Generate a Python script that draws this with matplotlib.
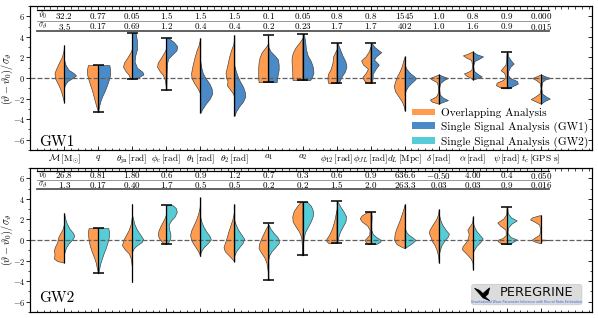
import numpy as np
import matplotlib
matplotlib.use('Agg')
import matplotlib.pyplot as plt
import matplotlib.transforms as mtransforms
from matplotlib.patches import Patch, FancyBboxPatch, Polygon
from matplotlib.ticker import MultipleLocator

plt.rcParams['font.family'] = 'serif'
plt.rcParams['font.serif'] = ['cmr10']
plt.rcParams['mathtext.fontset'] = 'cm'
plt.rcParams['axes.formatter.use_mathtext'] = True

param_labels = [r'$\mathcal{M}\,[\mathrm{M}_{\odot}]$', r'$q$', r'$\theta_{\mathrm{jn}}\,[\mathrm{rad}]$',
                r'$\phi_{\mathrm{c}}\,[\mathrm{rad}]$', r'$\theta_1\,[\mathrm{rad}]$', r'$\theta_2\,[\mathrm{rad}]$',
                r'$a_1$', r'$a_2$', r'$\phi_{12}\,[\mathrm{rad}]$', r'$\phi_{JL}\,[\mathrm{rad}]$',
                r'$d_L\,[\mathrm{Mpc}]$', r'$\delta\,[\mathrm{rad}]$', r'$\alpha\,[\mathrm{rad}]$',
                r'$\psi\,[\mathrm{rad}]$', r'$t_c\,[\mathrm{GPS\ s}]$']

gw1_theta0 = ['32.2', '0.77', '0.05', '1.5', '1.5', '1.5', '0.1', '0.05', '0.8', '0.8', '1545', '1.0', '0.8', '0.9', '0.000']
gw1_sigma = ['3.5', '0.17', '0.69', '1.2', '0.4', '0.4', '0.2', '0.23', '1.7', '1.7', '402', '1.0', '1.6', '0.9', '0.015']
gw2_theta0 = ['26.8', '0.81', '1.80', '0.6', '0.9', '1.2', '0.7', '0.3', '0.6', '0.9', '636.6', '-0.50', '4.00', '0.4', '0.050']
gw2_sigma = ['1.3', '0.17', '0.40', '1.7', '0.5', '0.5', '0.2', '0.2', '1.5', '2.0', '263.3', '0.03', '0.03', '0.9', '0.016']

# range of the central line (lo, hi) and whether it ends in caps
gw1_extent = [(-2.4, 3.2), (-3.3, 1.25), (-0.05, 4.4), (-1.17, 3.9), (-3.4, 3.9), (-3.7, 4.2), (-0.4, 4.2),
              (-0.2, 4.3), (-0.5, 3.4), (-0.45, 3.4), (-3.2, 2.1), (-2.5, 0.35), (-0.15, 2.6), (-1.0, 2.5), (-2.5, 0.35)]
gw1_caps = [False, True, True, True, False, False, True, True, True, True, False, False, False, True, False]
gw2_extent = [(-2.2, 2.65), (-3.25, 1.15), (-4.1, 3.5), (-0.35, 3.4), (-1.6, 4.15), (-2.1, 3.5), (-3.9, 1.7),
              (-1.5, 3.7), (-0.3, 3.8), (-0.4, 2.75), (-0.8, 3.5), (-2.25, 3.0), (-2.9, 2.3), (-0.4, 3.2), (-0.3, 2.4)]
gw2_caps = [False, True, False, True, False, False, True, True, True, True, False, False, False, True, False]

# half-violin outlines: (normalised value, half width)
gw1_overlap = [
    [(3.2, 0), (2.6, 0.02), (2.0, 0.07), (1.5, 0.15), (1.0, 0.22), (0.5, 0.28), (0.0, 0.27), (-0.5, 0.19), (-1.0, 0.12), (-1.5, 0.07), (-2.0, 0.03), (-2.4, 0)],
    [(1.25, 0.3), (0.8, 0.33), (0.3, 0.32), (-0.2, 0.28), (-0.7, 0.23), (-1.2, 0.18), (-1.7, 0.14), (-2.2, 0.1), (-2.7, 0.06), (-3.1, 0.02), (-3.3, 0)],
    [(2.9, 0), (2.5, 0.05), (2.0, 0.14), (1.5, 0.24), (1.1, 0.27), (0.7, 0.2), (0.3, 0.1), (-0.05, 0.06)],
    [(2.9, 0), (2.5, 0.06), (2.0, 0.15), (1.5, 0.25), (1.1, 0.27), (0.7, 0.2), (0.3, 0.1), (-0.2, 0.04), (-0.7, 0.02), (-1.17, 0.01)],
    [(3.9, 0), (3.2, 0.05), (2.7, 0.11), (2.0, 0.17), (1.2, 0.23), (0.5, 0.27), (0.0, 0.26), (-0.5, 0.18), (-1.0, 0.08), (-1.4, 0.02), (-1.8, 0)],
    [(4.2, 0), (3.3, 0.03), (2.7, 0.1), (2.0, 0.16), (1.2, 0.21), (0.5, 0.26), (0.0, 0.24), (-0.3, 0.2), (-0.7, 0.22), (-1.1, 0.13), (-1.5, 0.04), (-1.9, 0)],
    [(3.4, 0), (3.0, 0.08), (2.5, 0.2), (2.0, 0.26), (1.5, 0.29), (1.0, 0.3), (0.5, 0.3), (0.0, 0.3), (-0.4, 0.29)],
    [(3.9, 0), (3.5, 0.08), (3.0, 0.2), (2.5, 0.28), (2.0, 0.32), (1.5, 0.32), (1.0, 0.31), (0.5, 0.3), (0.0, 0.3), (-0.2, 0.29)],
    [(2.8, 0), (2.1, 0.1), (1.5, 0.12), (0.9, 0.17), (0.4, 0.25), (0.0, 0.27), (-0.3, 0.26), (-0.5, 0.24)],
    [(3.1, 0), (2.6, 0.05), (2.1, 0.15), (1.7, 0.28), (1.3, 0.22), (0.9, 0.08), (0.5, 0.14), (0.1, 0.24), (-0.2, 0.2), (-0.45, 0.12)],
    [(2.1, 0), (1.7, 0.04), (1.2, 0.08), (0.7, 0.14), (0.2, 0.22), (-0.3, 0.28), (-0.8, 0.32), (-1.3, 0.28), (-1.8, 0.18), (-2.3, 0.08), (-2.8, 0.02), (-3.2, 0)],
    [(0.35, 0), (0.15, 0.15), (0.0, 0.26), (-0.15, 0.2), (-0.4, 0.06), (-0.8, 0.02), (-1.4, 0.02), (-1.8, 0.08), (-2.1, 0.26), (-2.3, 0.2), (-2.5, 0)],
    [(2.6, 0), (2.4, 0.12), (2.2, 0.29), (2.0, 0.2), (1.75, 0.05), (1.3, 0.02), (0.8, 0.04), (0.6, 0.14), (0.45, 0.26), (0.25, 0.2), (0.05, 0.08), (-0.15, 0)],
    [(2.5, 0.01), (1.8, 0.02), (1.3, 0.04), (1.0, 0.12), (0.75, 0.18), (0.5, 0.08), (0.1, 0.04), (-0.2, 0.12), (-0.45, 0.3), (-0.7, 0.32), (-0.9, 0.2), (-1.0, 0.12)],
    [(0.35, 0), (0.15, 0.14), (0.0, 0.26), (-0.2, 0.14), (-0.5, 0.03), (-1.0, 0.01), (-1.5, 0.04), (-1.8, 0.17), (-2.05, 0.3), (-2.3, 0.14), (-2.5, 0)],
]
gw1_single = [
    [(1.8, 0), (1.3, 0.04), (0.8, 0.13), (0.5, 0.27), (0.25, 0.35), (0.0, 0.25), (-0.3, 0.1), (-0.7, 0.02), (-1.0, 0)],
    [(1.25, 0.33), (0.8, 0.35), (0.3, 0.35), (-0.2, 0.31), (-0.7, 0.26), (-1.2, 0.2), (-1.7, 0.13), (-2.2, 0.07), (-2.7, 0.03), (-3.1, 0.01), (-3.3, 0)],
    [(4.4, 0.1), (3.6, 0.14), (2.8, 0.14), (2.2, 0.09), (1.6, 0.07), (1.0, 0.14), (0.6, 0.3), (0.35, 0.33), (0.1, 0.2), (-0.05, 0.08)],
    [(3.9, 0.06), (3.5, 0.22), (3.1, 0.32), (2.7, 0.3), (2.3, 0.18), (1.9, 0.06), (1.4, 0.02), (0.5, 0.01), (-1.17, 0)],
    [(1.6, 0), (1.0, 0.03), (0.5, 0.07), (0.0, 0.15), (-0.5, 0.26), (-1.0, 0.33), (-1.5, 0.35), (-2.0, 0.28), (-2.5, 0.16), (-3.0, 0.06), (-3.4, 0)],
    [(1.2, 0), (0.8, 0.03), (0.3, 0.08), (-0.3, 0.16), (-0.9, 0.26), (-1.4, 0.31), (-1.8, 0.32), (-2.3, 0.25), (-2.8, 0.13), (-3.3, 0.04), (-3.7, 0)],
    [(3.0, 0), (2.6, 0.06), (2.2, 0.18), (1.8, 0.28), (1.3, 0.3), (0.8, 0.3), (0.3, 0.27), (-0.1, 0.25), (-0.4, 0.24)],
    [(4.3, 0.04), (3.5, 0.08), (2.8, 0.1), (2.2, 0.15), (1.6, 0.25), (1.0, 0.31), (0.5, 0.32), (0.1, 0.28), (-0.2, 0.22)],
    [(3.4, 0.03), (2.8, 0.1), (2.2, 0.17), (1.6, 0.26), (1.1, 0.29), (0.6, 0.24), (0.2, 0.16), (-0.2, 0.1), (-0.5, 0.06)],
    [(3.4, 0.03), (3.0, 0.12), (2.5, 0.31), (2.1, 0.16), (1.8, 0.1), (1.3, 0.24), (0.9, 0.15), (0.4, 0.06), (0.0, 0.06), (-0.45, 0.04)],
    [(1.3, 0), (0.9, 0.05), (0.5, 0.15), (0.1, 0.3), (-0.1, 0.32), (-0.4, 0.22), (-0.8, 0.1), (-1.2, 0.03), (-1.6, 0)],
    [(0.35, 0), (0.2, 0.1), (0.0, 0.27), (-0.2, 0.15), (-0.5, 0.04), (-1.0, 0.01), (-1.6, 0.03), (-1.9, 0.12), (-2.15, 0.27), (-2.35, 0.1), (-2.5, 0)],
    [(2.55, 0), (2.3, 0.12), (2.1, 0.3), (1.9, 0.2), (1.65, 0.05), (1.2, 0.01), (0.7, 0.03), (0.4, 0.14), (0.15, 0.26), (0.0, 0.15), (-0.15, 0)],
    [(2.5, 0.02), (2.1, 0.04), (1.7, 0.12), (1.4, 0.2), (1.1, 0.1), (0.7, 0.04), (0.3, 0.03), (0.0, 0.1), (-0.3, 0.3), (-0.55, 0.32), (-0.8, 0.16), (-1.0, 0.06)],
    [(0.35, 0), (0.15, 0.14), (0.0, 0.27), (-0.15, 0.12), (-0.4, 0.03), (-1.0, 0.01), (-1.5, 0.03), (-1.8, 0.15), (-2.0, 0.26), (-2.25, 0.1), (-2.5, 0)],
]
gw2_overlap = [
    [(1.6, 0), (1.1, 0.04), (0.6, 0.12), (0.2, 0.18), (-0.2, 0.2), (-0.6, 0.26), (-1.0, 0.3), (-1.4, 0.28), (-1.8, 0.3), (-2.05, 0.2), (-2.2, 0)],
    [(1.15, 0.28), (0.8, 0.3), (0.3, 0.29), (-0.2, 0.27), (-0.7, 0.23), (-1.2, 0.18), (-1.7, 0.12), (-2.2, 0.07), (-2.7, 0.04), (-3.1, 0.01), (-3.25, 0)],
    [(3.5, 0), (2.3, 0.01), (1.6, 0.04), (1.0, 0.1), (0.5, 0.18), (0.0, 0.26), (-0.5, 0.3), (-0.9, 0.22), (-1.3, 0.1), (-1.8, 0.04), (-2.6, 0.01), (-4.1, 0)],
    [(2.6, 0), (2.2, 0.04), (1.8, 0.1), (1.3, 0.18), (0.9, 0.23), (0.5, 0.25), (0.1, 0.2), (-0.2, 0.12), (-0.35, 0.08)],
    [(4.15, 0), (3.2, 0.02), (2.6, 0.06), (2.0, 0.12), (1.5, 0.19), (1.0, 0.26), (0.5, 0.3), (0.0, 0.27), (-0.5, 0.18), (-1.0, 0.08), (-1.4, 0.02), (-1.6, 0)],
    [(3.5, 0), (2.6, 0.02), (2.0, 0.06), (1.4, 0.12), (0.8, 0.18), (0.3, 0.22), (-0.2, 0.27), (-0.7, 0.32), (-1.1, 0.28), (-1.5, 0.16), (-1.9, 0.05), (-2.1, 0)],
    [(1.5, 0), (1.1, 0.08), (0.6, 0.15), (0.1, 0.22), (-0.4, 0.28), (-0.8, 0.29), (-1.2, 0.22), (-1.7, 0.12), (-2.2, 0.06), (-2.8, 0.03), (-3.4, 0.01), (-3.9, 0)],
    [(3.7, 0.06), (3.3, 0.16), (2.8, 0.26), (2.3, 0.3), (1.8, 0.29), (1.3, 0.2), (0.8, 0.1), (0.3, 0.04), (-0.5, 0.02), (-1.5, 0.01)],
    [(3.0, 0), (2.5, 0.03), (2.0, 0.06), (1.5, 0.1), (1.0, 0.15), (0.5, 0.22), (0.1, 0.3), (-0.1, 0.3), (-0.3, 0.24)],
    [(2.75, 0.08), (2.4, 0.26), (2.1, 0.32), (1.8, 0.26), (1.4, 0.1), (1.0, 0.03), (0.5, 0.04), (0.2, 0.12), (0.0, 0.18), (-0.2, 0.14), (-0.4, 0.08)],
    [(3.5, 0), (3.0, 0.04), (2.5, 0.09), (2.0, 0.14), (1.5, 0.2), (1.0, 0.26), (0.5, 0.3), (0.0, 0.31), (-0.4, 0.24), (-0.65, 0.1), (-0.8, 0)],
    [(3.0, 0), (2.5, 0.02), (2.0, 0.08), (1.5, 0.18), (1.0, 0.27), (0.7, 0.29), (0.3, 0.24), (-0.1, 0.2), (-0.5, 0.12), (-1.0, 0.06), (-1.5, 0.02), (-2.25, 0)],
    [(2.3, 0), (1.7, 0.02), (1.3, 0.1), (1.0, 0.16), (0.6, 0.12), (0.2, 0.14), (-0.2, 0.2), (-0.6, 0.3), (-0.9, 0.32), (-1.3, 0.2), (-1.8, 0.06), (-2.2, 0.01), (-2.9, 0)],
    [(3.2, 0.01), (2.5, 0.02), (2.1, 0.1), (1.7, 0.28), (1.4, 0.2), (1.0, 0.04), (0.5, 0.03), (0.2, 0.12), (0.0, 0.29), (-0.2, 0.24), (-0.4, 0.12)],
    [(2.4, 0.05), (2.2, 0.26), (2.0, 0.32), (1.8, 0.2), (1.5, 0.05), (1.0, 0.02), (0.5, 0.05), (0.2, 0.2), (0.0, 0.28), (-0.15, 0.18), (-0.3, 0.04)],
]
gw2_single = [
    [(2.65, 0), (2.1, 0.03), (1.6, 0.08), (1.1, 0.16), (0.7, 0.26), (0.4, 0.3), (0.1, 0.25), (-0.3, 0.14), (-0.7, 0.06), (-1.1, 0.02), (-1.4, 0)],
    [(1.15, 0.3), (0.7, 0.32), (0.2, 0.31), (-0.3, 0.27), (-0.8, 0.22), (-1.3, 0.16), (-1.8, 0.11), (-2.3, 0.06), (-2.8, 0.03), (-3.1, 0.01), (-3.25, 0)],
    [(2.4, 0), (2.0, 0.03), (1.5, 0.07), (1.0, 0.14), (0.5, 0.24), (0.1, 0.32), (-0.2, 0.28), (-0.5, 0.14), (-0.8, 0.05), (-1.1, 0)],
    [(3.4, 0.18), (3.1, 0.28), (2.75, 0.31), (2.3, 0.25), (1.9, 0.14), (1.5, 0.07), (1.1, 0.08), (0.6, 0.12), (0.2, 0.12), (-0.1, 0.08), (-0.35, 0.04)],
    [(2.2, 0), (1.8, 0.03), (1.3, 0.09), (0.8, 0.18), (0.4, 0.27), (0.05, 0.31), (-0.3, 0.22), (-0.7, 0.1), (-1.1, 0.02), (-1.3, 0)],
    [(1.9, 0), (1.5, 0.04), (1.0, 0.11), (0.5, 0.21), (0.1, 0.29), (-0.3, 0.24), (-0.7, 0.14), (-1.1, 0.05), (-1.5, 0)],
    [(1.5, 0), (1.1, 0.06), (0.7, 0.15), (0.3, 0.26), (0.0, 0.31), (-0.3, 0.3), (-0.7, 0.2), (-1.1, 0.09), (-1.5, 0.02), (-1.8, 0)],
    [(3.7, 0.14), (3.3, 0.25), (2.8, 0.31), (2.3, 0.3), (1.8, 0.24), (1.3, 0.16), (0.8, 0.08), (0.3, 0.04), (-0.5, 0.01), (-1.5, 0)],
    [(3.8, 0.02), (3.3, 0.1), (2.8, 0.2), (2.3, 0.28), (1.8, 0.26), (1.3, 0.18), (0.8, 0.1), (0.3, 0.05), (-0.3, 0.02)],
    [(2.75, 0.02), (2.2, 0.03), (1.6, 0.02), (1.0, 0.02), (0.6, 0.06), (0.3, 0.16), (0.05, 0.28), (-0.15, 0.29), (-0.4, 0.16)],
    [(1.2, 0), (0.8, 0.04), (0.5, 0.12), (0.2, 0.25), (0.0, 0.32), (-0.3, 0.22), (-0.6, 0.08), (-0.8, 0)],
    [(2.6, 0), (2.0, 0.04), (1.5, 0.1), (1.0, 0.2), (0.6, 0.3), (0.3, 0.26), (0.0, 0.18), (-0.5, 0.08), (-1.0, 0.03), (-1.5, 0)],
    [(1.7, 0), (1.3, 0.04), (0.9, 0.1), (0.5, 0.2), (0.15, 0.29), (-0.2, 0.22), (-0.6, 0.1), (-1.0, 0.03), (-1.2, 0)],
    [(3.2, 0.01), (2.6, 0.03), (2.2, 0.12), (1.9, 0.29), (1.6, 0.14), (1.2, 0.03), (0.7, 0.02), (0.3, 0.1), (0.05, 0.29), (-0.15, 0.2), (-0.4, 0.06)],
    [(0.12, 0), (0.04, 0.03), (0.0, 0.32), (-0.04, 0.03), (-0.12, 0)],
]

c_over = '#FF9C50'
c_gw1 = '#4A8AC6'
c_gw2 = '#56CCD8'


def draw_panel(ax, extent, caps, left, right, col_right, theta0, sigma, rows_y):
    for i in range(len(extent)):
        v, w = np.array(left[i]).T
        ax.fill_betweenx(v, i - w, i, facecolor=c_over, edgecolor='#3a3a3a', lw=0.45, zorder=2)
        v, w = np.array(right[i]).T
        ax.fill_betweenx(v, i, i + w, facecolor=col_right, edgecolor='#3a3a3a', lw=0.45, zorder=2)
        lo, hi = extent[i]
        ax.vlines(i, lo, hi, color='k', lw=0.9, zorder=4)
        if caps[i]:
            ax.hlines([lo, hi], i - 0.16, i + 0.16, color='k', lw=1.1, zorder=4)
    ax.axhline(0, color='#606060', lw=0.9, ls=(0, (4, 1.6)), zorder=3)

    trans = mtransforms.blended_transform_factory(ax.transData, ax.transAxes)
    top, r1, mid, r2, bot = rows_y
    ax.plot([-0.79, 14.24], [top, top], color='k', lw=0.9, transform=trans, zorder=5)
    ax.plot([-0.79, 14.24], [mid, mid], color='#888888', lw=0.6, transform=trans, zorder=5)
    ax.plot([-0.79, 14.24], [bot, bot], color='#555555', lw=1.3, transform=trans, zorder=5)
    ax.text(-0.63, r1, r'$\vartheta_0$', transform=trans, ha='center', va='center', fontsize=5.6)
    ax.text(-0.63, r2, r'$\sigma_\vartheta$', transform=trans, ha='center', va='center', fontsize=5.6)
    for i in range(len(theta0)):
        ax.text(i, r1, '$' + theta0[i] + '$', transform=trans, ha='center', va='center', fontsize=6.5)
        ax.text(i, r2, '$' + sigma[i] + '$', transform=trans, ha='center', va='center', fontsize=6.5)

    ax.set_xlim(-1, 15.5)
    ax.set_ylim(-7, 7)
    ax.set_xticks(range(15))
    ax.xaxis.set_minor_locator(MultipleLocator(0.2))
    ax.set_yticks([-6, -4, -2, 0, 2, 4, 6])
    ax.yaxis.set_minor_locator(MultipleLocator(1))
    ax.tick_params(axis='x', which='both', direction='in', top=True)
    ax.tick_params(axis='y', which='both', direction='out', right=False, labelsize=6.0, pad=0.5)
    ax.tick_params(which='major', length=3.0, width=0.6)
    ax.tick_params(which='minor', length=1.8, width=0.5)
    ax.set_ylabel(r'$(\vartheta-\vartheta_0)/\sigma_\vartheta$', fontsize=7.4)
    ax.yaxis.set_label_coords(-0.0262, 0.5)
    for s in ax.spines.values():
        s.set_linewidth(0.8)

    # inward ticks on the right-hand spine
    tw = ax.twinx()
    tw.set_ylim(-7, 7)
    tw.set_yticks([-6, -4, -2, 0, 2, 4, 6])
    tw.yaxis.set_minor_locator(MultipleLocator(1))
    tw.tick_params(axis='y', which='both', direction='in', labelright=False)
    tw.tick_params(which='major', length=3.0, width=0.6)
    tw.tick_params(which='minor', length=1.8, width=0.5)
    for s in tw.spines.values():
        s.set_linewidth(0.8)


fig = plt.figure(figsize=(5.98, 3.18), dpi=100)
ax1 = fig.add_axes([0.0502, 0.5283, 0.9398, 0.4528])
ax2 = fig.add_axes([0.0502, 0.0189, 0.9398, 0.4528])

draw_panel(ax1, gw1_extent, gw1_caps, gw1_overlap, gw1_single, c_gw1, gw1_theta0, gw1_sigma,
           (0.972, 0.934, 0.894, 0.859, 0.824))
draw_panel(ax2, gw2_extent, gw2_caps, gw2_overlap, gw2_single, c_gw2, gw2_theta0, gw2_sigma,
           (0.982, 0.951, 0.918, 0.885, 0.852))

ax1.set_xticklabels(param_labels, fontsize=6.7)
ax1.tick_params(axis='x', which='major', pad=2)
ax2.tick_params(axis='x', labelbottom=False)

ax1.text(0.016, 0.025, 'GW1', transform=ax1.transAxes, fontsize=11, va='baseline')
ax2.text(0.016, 0.069, 'GW2', transform=ax2.transAxes, fontsize=11, va='baseline')

handles = [Patch(facecolor=c_over, edgecolor='none'),
           Patch(facecolor=c_gw1, edgecolor='none'),
           Patch(facecolor=c_gw2, edgecolor='none')]
ax1.legend(handles, ['Overlapping Analysis', 'Single Signal Analysis (GW1)', 'Single Signal Analysis (GW2)'],
           loc='lower right', bbox_to_anchor=(1.006, -0.03), frameon=False, fontsize=8.1,
           handlelength=2.0, handleheight=0.5, handletextpad=0.6, labelspacing=0.3, borderaxespad=0.2)

# logo box
box = FancyBboxPatch((0.786, 0.05), 0.196, 0.142, boxstyle='round,pad=0.0,rounding_size=0.01',
                     transform=ax2.transAxes, facecolor='#dcdcdc', edgecolor='#c8c8c8', lw=0.5, zorder=6)
ax2.add_patch(box)
bird = Polygon([(0.791, 0.165), (0.800, 0.150), (0.806, 0.128), (0.812, 0.150), (0.818, 0.168),
                (0.815, 0.125), (0.810, 0.105), (0.818, 0.078), (0.806, 0.098), (0.800, 0.125)],
               closed=True, transform=ax2.transAxes, facecolor='k', edgecolor='k', lw=0.5, zorder=7)
ax2.add_patch(bird)
ax2.text(0.902, 0.132, 'PEREGRINE', transform=ax2.transAxes, ha='center', va='center',
         fontsize=9.3, family='DejaVu Sans', color='#111111', zorder=7)
ax2.text(0.884, 0.068, 'Gravitational Wave Parameter Inference with Neural Ratio Estimation',
         transform=ax2.transAxes, ha='center', va='center', fontsize=2.3, family='DejaVu Sans',
         color='#3c64e0', zorder=7)

fig.savefig('out.png', dpi=100)
